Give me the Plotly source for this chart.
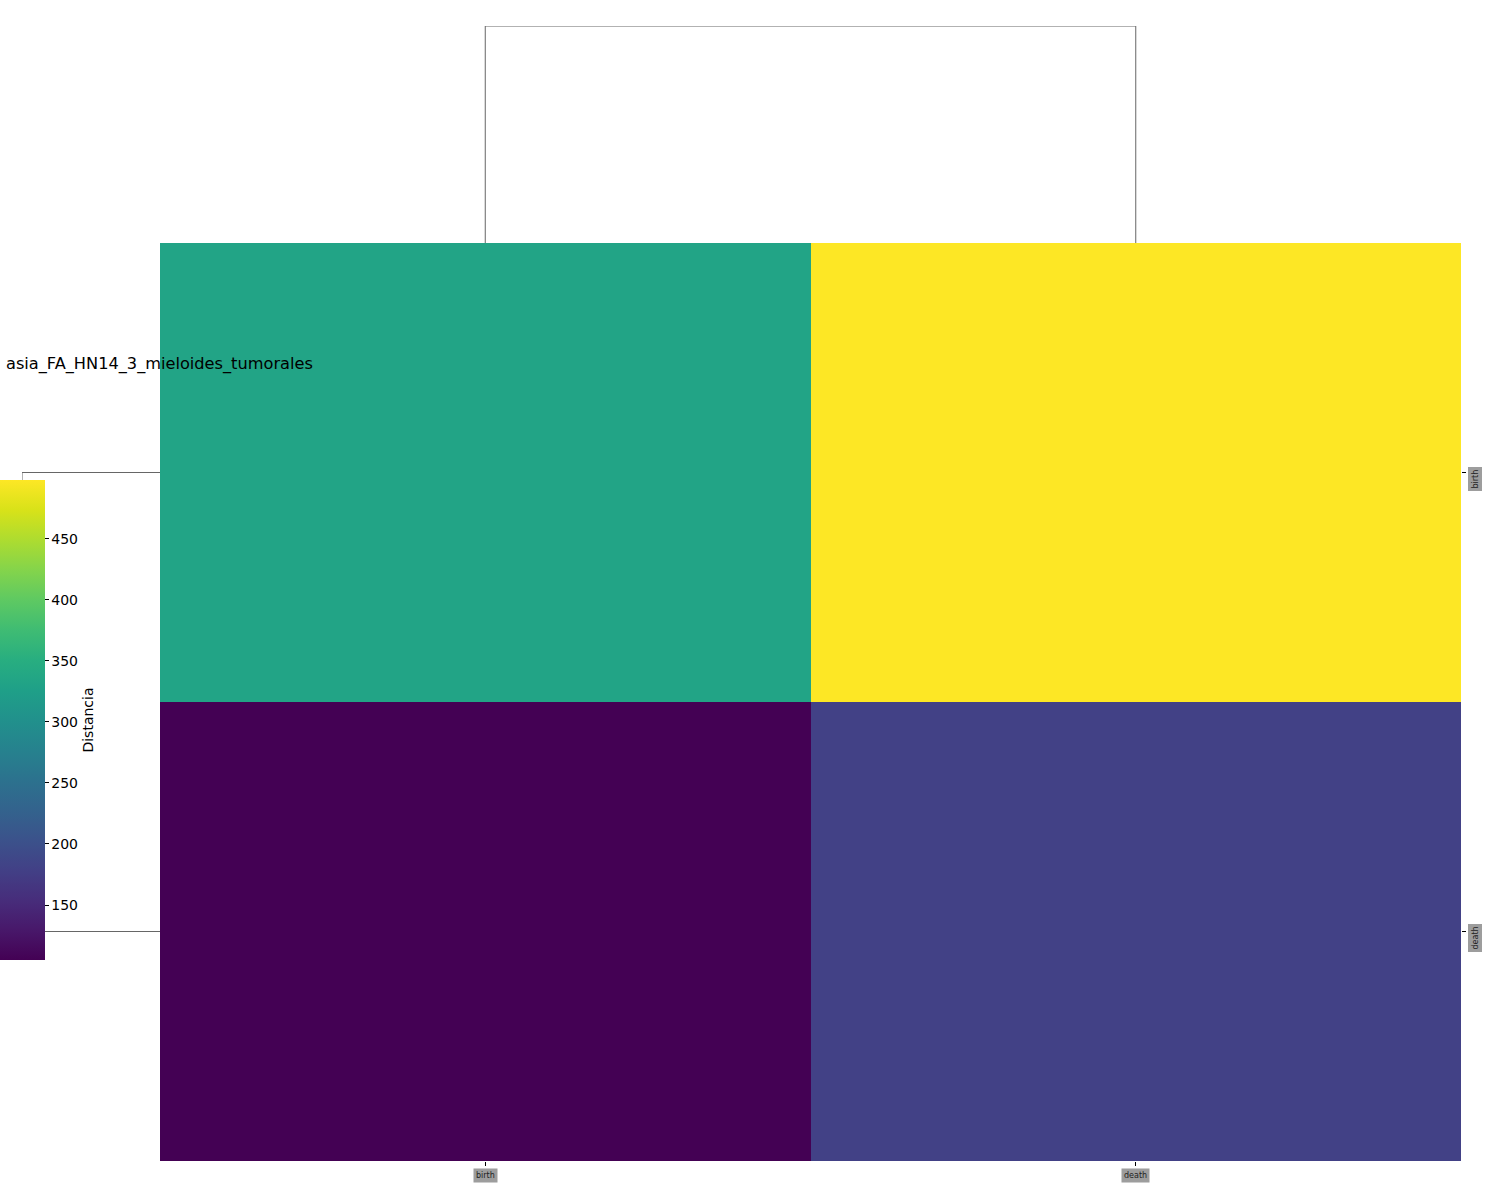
import plotly.graph_objects as go

# ---- data ----
labels = ["birth", "death"]
distances = [
    [333, 498],
    [105, 180],
]
col_link_height = 1.0   # linkage height joining the two columns
row_link_height = 1.0   # linkage height joining the two rows
col_leaves = [0, 1]
row_leaves = [0, 1]
title_text = "asia_FA_HN14_3_mieloides_tumorales"
cbar_label = "Distancia"
cbar_ticks = [150, 200, 250, 300, 350, 400, 450]

# matplotlib viridis, 17 stops
viridis_hex = ["#440154", "#48186a", "#472d7b", "#424086", "#3b528b", "#33638d",
               "#2c728e", "#26828e", "#21918c", "#1fa088", "#28ae80", "#3fbc73",
               "#5ec962", "#84d44b", "#addc30", "#d8e219", "#fde725"]
colorscale = [[i / (len(viridis_hex) - 1), c] for i, c in enumerate(viridis_hex)]

W, H = 1500, 1200
def px_x(p): return p / W
def px_y(p): return 1 - p / H

hm_x = [px_x(160), px_x(1461)]
hm_y = [px_y(1161), px_y(243)]

fig = go.Figure()

fig.add_trace(go.Heatmap(
    z=distances, x=labels, y=labels,
    colorscale=colorscale,
    xgap=0, ygap=0,
    colorbar=dict(
        xref="container", x=0, xanchor="left", xpad=0,
        yref="container", y=px_y(720), yanchor="middle", ypad=0,
        thickness=45, thicknessmode="pixels",
        len=480, lenmode="pixels",
        outlinewidth=0,
        ticks="outside", ticklen=4, tickwidth=1, tickcolor="black",
        tickvals=cbar_ticks,
        tickfont=dict(family="DejaVu Sans", size=14, color="black"),
        title=dict(text=cbar_label, side="right",
                   font=dict(family="DejaVu Sans", size=14, color="black")),
    ),
    hoverinfo="z",
    xaxis="x", yaxis="y",
))

# column dendrogram
cx = [col_leaves[0], col_leaves[0], col_leaves[1], col_leaves[1]]
cy = [0, col_link_height, col_link_height, 0]
fig.add_trace(go.Scatter(x=cx, y=cy, mode="lines",
                         line=dict(color="#666666", width=1),
                         xaxis="x2", yaxis="y2", showlegend=False, hoverinfo="skip"))

# row dendrogram
rx = [0, row_link_height, row_link_height, 0]
ry = [row_leaves[0], row_leaves[0], row_leaves[1], row_leaves[1]]
fig.add_trace(go.Scatter(x=rx, y=ry, mode="lines",
                         line=dict(color="#666666", width=1),
                         xaxis="x3", yaxis="y3", showlegend=False, hoverinfo="skip"))

annotations = []
for i, lab in enumerate(labels):
    annotations.append(dict(
        text=lab, xref="x", x=i, yref="paper", y=px_y(1175),
        xanchor="center", yanchor="middle", showarrow=False,
        font=dict(family="DejaVu Sans", size=8, color="#222222"),
        bgcolor="rgba(140,140,140,0.85)", borderpad=2,
    ))
    annotations.append(dict(
        text=lab, xref="paper", x=px_x(1475), yref="y", y=i,
        xanchor="center", yanchor="middle", showarrow=False, yshift=-7,
        textangle=-90,
        font=dict(family="DejaVu Sans", size=8, color="#222222"),
        bgcolor="rgba(140,140,140,0.85)", borderpad=2,
    ))
annotations.append(dict(
    text=title_text, xref="paper", x=px_x(315), yref="paper", y=px_y(364),
    xanchor="right", yanchor="middle", showarrow=False,
    font=dict(family="DejaVu Sans", size=16.2, color="black"),
))

fig.update_layout(
    width=W, height=H,
    margin=dict(l=0, r=0, t=0, b=0, autoexpand=False),
    paper_bgcolor="white", plot_bgcolor="white",
    showlegend=False,
    xaxis=dict(domain=hm_x, range=[-0.5, 1.5], type="category",
               showticklabels=False, ticks="outside", ticklen=4, tickcolor="black",
               showgrid=False, zeroline=False, showline=False),
    yaxis=dict(domain=hm_y, range=[1.5, -0.5], type="category", side="right",
               showticklabels=False, ticks="outside", ticklen=4, tickcolor="black",
               showgrid=False, zeroline=False, showline=False, anchor="x"),
    xaxis2=dict(domain=hm_x, range=[-0.5, 1.5], visible=False, anchor="y2"),
    yaxis2=dict(domain=[px_y(243), px_y(26)], range=[0, col_link_height],
                visible=False, anchor="x2"),
    xaxis3=dict(domain=[px_x(22), px_x(160)], range=[row_link_height, 0],
                visible=False, anchor="y3"),
    yaxis3=dict(domain=hm_y, range=[1.5, -0.5], visible=False, anchor="x3"),
    annotations=annotations,
)

fig.write_html("out.html")
